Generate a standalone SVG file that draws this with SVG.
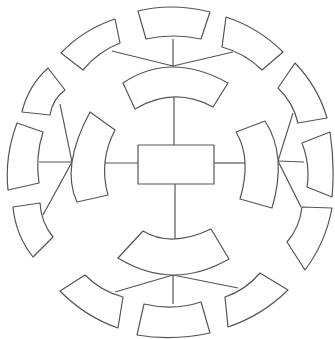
<svg xmlns="http://www.w3.org/2000/svg" width="335" height="339" viewBox="0 0 335 339">
<style>
.n{fill:#fff;stroke:#555;stroke-width:1.2;stroke-linejoin:round}
.c line{stroke:#555;stroke-width:1.2}
</style>
<rect width="335" height="339" fill="#fff"/>
<g class="c" id="connectors">
<line x1="174" y1="97" x2="174" y2="145"/>
<line x1="173" y1="39" x2="173" y2="67"/>
<line x1="173" y1="66" x2="112" y2="51"/>
<line x1="173" y1="66" x2="233" y2="52"/>
<line x1="175" y1="184" x2="175" y2="239"/>
<line x1="173" y1="275" x2="173" y2="304"/>
<line x1="173" y1="275" x2="115" y2="292"/>
<line x1="173" y1="275" x2="238" y2="288"/>
<line x1="138" y1="163" x2="105" y2="163"/>
<line x1="72" y1="162" x2="39" y2="162"/>
<line x1="72" y1="162" x2="60" y2="104"/>
<line x1="72" y1="162" x2="43" y2="215"/>
<line x1="214" y1="163" x2="245" y2="163"/>
<line x1="278" y1="161" x2="304" y2="162"/>
<line x1="278" y1="161" x2="293" y2="113"/>
<line x1="278" y1="161" x2="301" y2="207"/>
</g>
<g id="center"><rect class="n" x="138" y="145" width="76" height="39"/></g>
<g id="sector-n"><path class="n" d="M123,83 Q170.5,51 228,83 L213,107 Q174,86 135,109 Z"/></g>
<g id="sector-s"><path class="n" d="M143,231 Q171,248 211,229 L229,259 Q172.5,291.5 118,258 Z"/></g>
<g id="sector-w"><path class="n" d="M90,112 L115,130 Q98.5,161.5 108,195 L77,202 Q60.5,167 90,112 Z"/></g>
<g id="sector-e"><path class="n" d="M236,132 L265,121 Q287.5,155.5 272,208 L240,199 Q252,158.5 236,132 Z"/></g>
<g id="box-n"><path class="n" d="M138,11 Q172,2.5 210,12 L201,39 Q173,33 146,39 Z"/></g>
<g id="box-nw"><path class="n" d="M61,53 Q83.5,29.4 115,19 L120,43 Q98.2,51.5 83,70 Z"/></g>
<g id="box-ne"><path class="n" d="M226,17 Q258.6,27.7 283,52 L262,70 Q245.2,53.4 222,47 Z"/></g>
<g id="box-ene"><path class="n" d="M295,63 Q318,86.7 327,118 L298,123 Q293.3,102.7 278,88 Z"/></g>
<g id="box-e"><path class="n" d="M302,143 L330,132 Q335,164.5 332,197 L307,187 Q310.5,165 302,143 Z"/></g>
<g id="box-ese"><path class="n" d="M302,207 L332,208 Q325.6,242.7 305,270 L287,242 Q299.8,227.3 302,207 Z"/></g>
<g id="box-se"><path class="n" d="M260,273 L288,290 Q262,315.5 228,327 L225,297 Q245.4,290.2 260,273 Z"/></g>
<g id="box-s"><path class="n" d="M144,304 Q173.5,311 201,302 L210,333 Q172.5,341 137,335 Z"/></g>
<g id="box-sw"><path class="n" d="M85,275 L60,291 Q84.8,316.4 118,328 L123,297 Q101,291.2 85,275 Z"/></g>
<g id="box-wsw"><path class="n" d="M40,203 L13,207 Q15.7,235.2 33,257 L53,237 Q41,222.3 40,203 Z"/></g>
<g id="box-w"><path class="n" d="M43,132 L17,123 Q4.5,156.5 8,190 L39,183 Q35,157.5 43,132 Z"/></g>
<g id="box-wnw"><path class="n" d="M48,68 L65,90 Q52.2,99.7 50,115 L22,112 Q28,86.2 48,68 Z"/></g>
</svg>
